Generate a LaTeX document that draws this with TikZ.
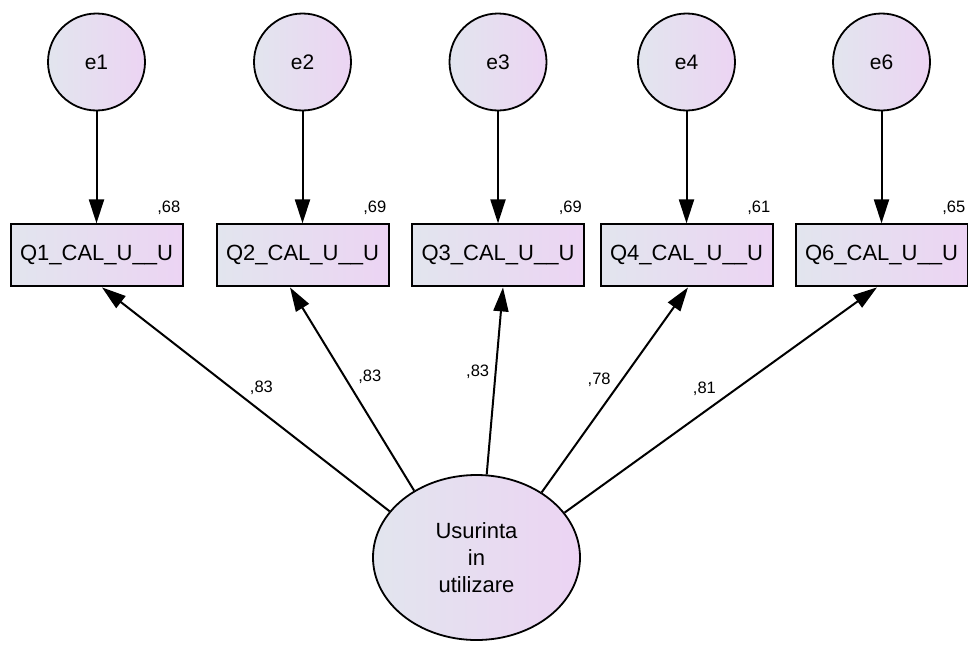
\documentclass[tikz,border=0pt]{standalone}
\usepackage{fontspec}
\setmainfont{Liberation Sans}
\definecolor{PaleBlue}{RGB}{226, 229, 238}
\definecolor{PaleLilac}{RGB}{236, 212, 243}
\usetikzlibrary{arrows.meta, positioning, shapes.geometric}

\begin{document}
\begin{tikzpicture}[
        x=1pt, y=-1pt,
        node distance=112pt,
        err/.style={circle, draw, line width=1.8pt, left color=PaleBlue, right color=PaleLilac, minimum size=97pt, inner sep=0pt, font=\fontsize{21}{25}\selectfont},
        item/.style={rectangle, draw, line width=2pt, left color=PaleBlue, right color=PaleLilac, minimum width=172pt, minimum height=62pt, inner sep=2pt, font=\fontsize{22}{26}\selectfont},
        factor/.style={ellipse, draw, line width=1.8pt, left color=PaleBlue, right color=PaleLilac, minimum width=207pt, minimum height=165pt, inner sep=0pt, align=center, font=\fontsize{22}{27}\selectfont},
        coef/.style={inner sep=0pt, font=\fontsize{16.5}{19}\selectfont},
        arrow/.style={-{Triangle[length=24pt, width=15pt]}, line width=2pt}
    ]
        \useasboundingbox (0,0) rectangle (968,645);

        % Errors
        \node[err] (e1) at (96.5,62) {e1};
        \node[err] (e2) at (302.5,62) {e2};
        \node[err] (e3) at (498,62) {e3};
        \node[err] (e4) at (686.5,62) {e4};
        \node[err] (e6) at (881.5,62) {e6};

        % Items
        \node[item, below=of e1] (q1) {Q1\_CAL\_U\_\_U};
        \node[item, below=of e2] (q2) {Q2\_CAL\_U\_\_U};
        \node[item, below=of e3] (q3) {Q3\_CAL\_U\_\_U};
        \node[item, below=of e4] (q4) {Q4\_CAL\_U\_\_U};
        \node[item, below=of e6] (q6) {Q6\_CAL\_U\_\_U};

        % R-squared
        \node[coef, anchor=south east] (r1) at ([xshift=-3pt, yshift=9pt]q1.north east) {,68};
        \node[coef, anchor=south east] (r2) at ([xshift=-3pt, yshift=9pt]q2.north east) {,69};
        \node[coef, anchor=south east] (r3) at ([xshift=-3pt, yshift=9pt]q3.north east) {,69};
        \node[coef, anchor=south east] (r4) at ([xshift=-3pt, yshift=9pt]q4.north east) {,61};
        \node[coef, anchor=south east] (r6) at ([xshift=-3pt, yshift=9pt]q6.north east) {,65};

        % Factor
        \node[factor] (usu) at (476.5,557.5) {Usurinta\\in\\utilizare};

        % Arrows
        \draw[arrow] (e1) -- (q1);
        \draw[arrow] (e2) -- (q2);
        \draw[arrow] (e3) -- (q3);
        \draw[arrow] (e4) -- (q4);
        \draw[arrow] (e6) -- (q6);
        \draw[arrow] (usu.152) -- node[coef, pos=0.55, xshift=30pt] (w1) {,83} ([xshift=5.5pt]q1.south);
        \draw[arrow] (usu.133) -- node[coef, pos=0.55, xshift=24pt, yshift=2pt] (w2) {,83} ([xshift=-12.5pt]q2.south);
        \draw[arrow] (usu.83) -- node[coef, pos=0.55, xshift=-18pt] (w3) {,83} ([xshift=5pt]q3.south);
        \draw[arrow] (usu.45) -- node[coef, pos=0.55, xshift=-23pt] (w4) {,78} ([xshift=1.5pt]q4.south);
        \draw[arrow] (usu.27) -- node[coef, pos=0.55, xshift=-32pt] (w6) {,81} ([xshift=-4.5pt]q6.south);
    \end{tikzpicture}
\end{document}
